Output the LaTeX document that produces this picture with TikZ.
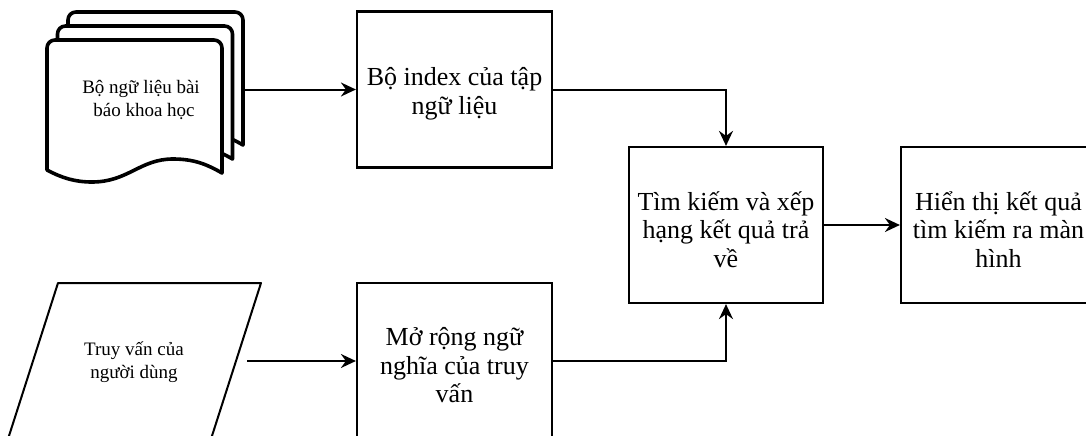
\documentclass[tikz,border=0pt]{standalone}
\usepackage{fontspec}
\setmainfont{Liberation Serif}
\usetikzlibrary{arrows.meta}
\begin{document}
\begin{tikzpicture}[x=1pt,y=-1pt,
  procbox/.style={draw, line width=2.2pt, fill=white, minimum width=195pt, minimum height=156pt, inner sep=0pt},
  boxtext/.style={align=center, font=\fontsize{26}{28.5}\selectfont},
  smalltext/.style={align=center, font=\fontsize{19}{23}\selectfont},
  page/.style={draw, line width=3.6pt, fill=white, line join=round},
  flow/.style={line width=2pt, -{Stealth[length=15pt,width=14pt,inset=5pt]}}
]
\useasboundingbox (0,0) rectangle (1086,436);

% stacked document pages, back to front
\foreach \dx/\dy in {21/-28, 10.5/-14, 0/0} {
  \begin{scope}[shift={(\dx,\dy)}]
    \path[page] (47,170) [rounded corners=8pt] -- (47,40) -- (222,40) -- (222,100)
      [sharp corners] -- (222,173)
      .. controls (208,165) and (195,159) .. (173,159)
      .. controls (140,159) and (128,182) .. (92,182)
      .. controls (75,182) and (62,178) .. (47,170) -- cycle;
  \end{scope}
}
\node[smalltext] (docs) at (141,100) {Bộ ngữ liệu bài\\ \hspace*{6pt}báo khoa học};
\coordinate (docout) at (243,89.5);

% user query (parallelogram, runs past the lower edge)
\draw[line width=2pt, line join=round] (58,283) -- (261,283) -- (211,439) -- (8,439) -- cycle;
\node[smalltext] (query) at (134,362) {Truy vấn của\\người dùng};
\coordinate (queryout) at (247,361);

% processing steps
\node[procbox] (index) at (454.5,89.5) {};
\node[boxtext] at (454.5,94) {Bộ index của tập\\ngữ liệu};

\node[procbox] (expand) at (454.5,361) {};
\node[boxtext] at (454.5,365.5) {Mở rộng ngữ\\nghĩa của truy\\vấn};

\node[procbox, minimum width=194pt] (rank) at (726,225) {};
\node[boxtext] at (726,229.5) {Tìm kiếm và xếp\\hạng kết quả trả\\về};

\node[procbox] (show) at (998.5,225) {};
\node[boxtext] at (998.5,229.5) {Hiển thị kết quả\\tìm kiếm ra màn\\hình};

% connectors
\draw[flow] (docout) -- (index.west);
\draw[flow] (queryout) -- (expand.west);
\draw[flow] (index.east) -| (rank.north);
\draw[flow] (expand.east) -| (rank.south);
\draw[flow] (rank.east) -- (show.west);
\end{tikzpicture}
\end{document}
